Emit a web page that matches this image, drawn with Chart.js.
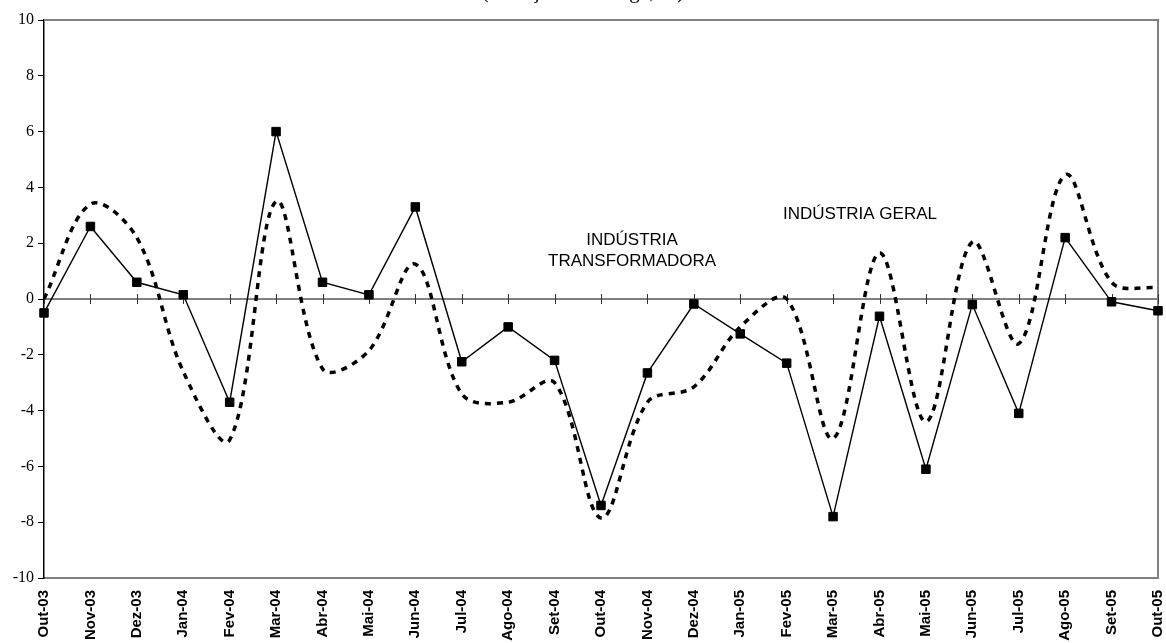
<!DOCTYPE html>
<html>
<head>
<meta charset="utf-8">
<script src="https://cdn.jsdelivr.net/npm/chart.js@4"></script>
<style>
  html, body { margin: 0; padding: 0; background: #fff; }
  #wrap { width: 1166px; height: 643px; }
</style>
</head>
<body>
<div id="wrap"><canvas id="lineChart" width="1166" height="643"></canvas></div>
<script>
var months = ["Out-03", "Nov-03", "Dez-03", "Jan-04", "Fev-04", "Mar-04", "Abr-04", "Mai-04", "Jun-04",
  "Jul-04", "Ago-04", "Set-04", "Out-04", "Nov-04", "Dez-04", "Jan-05", "Fev-05", "Mar-05", "Abr-05",
  "Mai-05", "Jun-05", "Jul-05", "Ago-05", "Set-05", "Out-05"];

// linha com marcadores
var transformadora = [-0.5, 2.6, 0.6, 0.15, -3.7, 6.0, 0.6, 0.15, 3.3, -2.25, -1.0, -2.2, -7.4, -2.65,
  -0.18, -1.25, -2.3, -7.8, -0.62, -6.1, -0.2, -4.1, 2.2, -0.1, -0.42];

// linha tracejada
var geral = [0.0, 3.4, 2.2, -2.6, -5.05, 3.5, -2.5, -1.85, 1.25, -3.4, -3.7, -3.0, -7.85, -3.7,
  -3.15, -1.0, 0.0, -5.0, 1.65, -4.4, 2.05, -1.6, 4.45, 0.6, 0.4];

var yTicks = [-10, -8, -6, -4, -2, 0, 2, 4, 6, 8, 10];

var chartTitle = "(variação homóloga, %)";

var sansFont = "'Liberation Sans', Arial, sans-serif";
var serifFont = "'Liberation Serif', 'Times New Roman', serif";

// moldura, eixo do zero e textos soltos
var decorPlugin = {
  id: "decor",
  beforeDatasetsDraw: function (chart) {
    var ctx = chart.ctx;
    var a = chart.chartArea;
    var xs = chart.scales.x;
    var ys = chart.scales.y;
    ctx.save();
    ctx.strokeStyle = "#808080";
    ctx.lineWidth = 2;
    ctx.beginPath();
    ctx.moveTo(a.left, a.top);
    ctx.lineTo(a.right, a.top);
    ctx.lineTo(a.right, a.bottom);
    ctx.stroke();

    var y0 = ys.getPixelForValue(0);
    ctx.beginPath();
    ctx.moveTo(a.left, y0);
    ctx.lineTo(a.right, y0);
    ctx.stroke();

    ctx.strokeStyle = "#333";
    ctx.lineWidth = 1;
    ctx.beginPath();
    for (var i = 0; i < months.length; i++) {
      var px = Math.round(xs.getPixelForValue(i)) + 0.5;
      ctx.moveTo(px, y0 - 5);
      ctx.lineTo(px, y0 + 5);
    }
    ctx.stroke();
    ctx.restore();
  },
  afterDraw: function (chart) {
    var ctx = chart.ctx;
    var xs = chart.scales.x;
    var ys = chart.scales.y;
    ctx.save();
    ctx.fillStyle = "#000";
    ctx.textAlign = "center";
    ctx.textBaseline = "alphabetic";
    ctx.font = "17px " + sansFont;
    ctx.fillText("INDÚSTRIA GERAL", xs.getPixelForValue(17.58), ys.getPixelForValue(2.87));
    ctx.fillText("INDÚSTRIA", xs.getPixelForValue(12.67), ys.getPixelForValue(1.94));
    ctx.fillText("TRANSFORMADORA", xs.getPixelForValue(12.67), ys.getPixelForValue(1.18));

    // título cortado no topo da imagem
    ctx.font = "21px " + serifFont;
    ctx.fillText(chartTitle, chart.width / 2, -2);
    ctx.restore();
  }
};

const ctx = document.getElementById("lineChart");

var chart = new Chart(ctx, {
  type: "line",
  data: {
    labels: months,
    datasets: [
      {
        label: "Indústria Transformadora",
        data: transformadora,
        borderColor: "#000",
        borderWidth: 1.4,
        pointStyle: "rect",
        pointRadius: 6,
        pointBackgroundColor: "#000",
        pointBorderColor: "#000",
        pointBorderWidth: 1,
        tension: 0,
        order: 0
      },
      {
        label: "Indústria Geral",
        data: geral,
        borderColor: "#000",
        borderWidth: 3.5,
        borderDash: [6, 6],
        pointRadius: 0,
        tension: 0.35,
        order: 1
      }
    ]
  },
  options: {
    responsive: false,
    animation: false,
    layout: { padding: { top: 20, right: 8, left: 0, bottom: 0 } },
    plugins: {
      legend: { display: false },
      tooltip: { enabled: false }
    },
    scales: {
      x: {
        offset: false,
        grid: { display: false, drawTicks: false },
        border: { display: true, color: "#808080", width: 2 },
        ticks: {
          color: "#000",
          minRotation: 90,
          maxRotation: 90,
          autoSkip: false,
          padding: 12,
          font: { family: sansFont, size: 15, weight: "bold" }
        },
        afterFit: function (scale) {
          scale.height = 65;
          scale.paddingLeft = 0;
          scale.paddingRight = 0;
        }
      },
      y: {
        min: -10,
        max: 10,
        afterBuildTicks: function (scale) {
          scale.ticks = yTicks.map(function (v) { return { value: v }; });
        },
        grid: { drawOnChartArea: false, drawTicks: true, tickLength: 6, color: "#000" },
        border: { display: true, color: "#000", width: 1.5 },
        ticks: {
          color: "#000",
          padding: 4,
          font: { family: serifFont, size: 16 }
        },
        afterFit: function (scale) {
          scale.width = 44;
          scale.paddingTop = 0;
          scale.paddingBottom = 0;
        }
      }
    }
  },
  plugins: [decorPlugin]
});
</script>
</body>
</html>
